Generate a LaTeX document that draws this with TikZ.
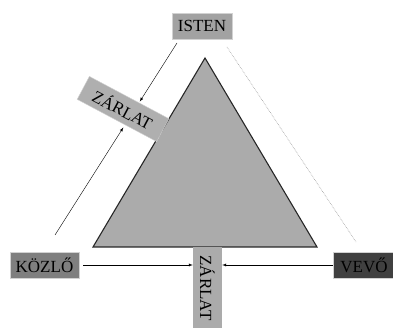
\documentclass[tikz,border=0pt]{standalone}
\usepackage{fontspec}
\setmainfont{Liberation Serif}
\usetikzlibrary{calc}
\definecolor{midgray}{HTML}{ABABAB}
\definecolor{boxgray}{HTML}{A2A2A2}
\definecolor{darkgray}{HTML}{7F7F7F}
\definecolor{deepgray}{HTML}{404040}
\begin{document}
\begin{tikzpicture}[x=1pt, y=-1pt,
            lbl/.style={draw=gray!35, rectangle, fill=boxgray, minimum height=26pt, inner sep=2pt, font=\fontsize{17}{19}\selectfont, align=center},
            arr/.style={-latex, thin}]
            \useasboundingbox (0,0) rectangle (393,328);

            % the triangle
            \filldraw[fill=midgray, draw=black!85, line width=1.1pt] (205,58) -- (317,247) -- (93,247) -- cycle;
            \draw[gray!80, densely dotted, line width=0.6pt] (227,47) -- (356,242);

            \node[lbl, minimum width=60pt] (isten) at (202,26) {ISTEN};
            \node[lbl, fill=darkgray, minimum width=69pt] (kozlo) at (44.5,265) {KÖZLŐ};
            \node[lbl, fill=deepgray, minimum width=62pt] (vevo) at (364,265) {VEVŐ};
            \node[lbl, fill=midgray, draw=none, rotate=-90, minimum width=82pt, minimum height=29pt] (zarlatb) at (207.5,288) {ZÁRLAT};
            \node[lbl, fill=midgray!95, rotate=-28, minimum width=90pt] (zarlata) at (123,109) {ZÁRLAT};

            \coordinate (top) at (177,43);
            \coordinate (low) at (55,235);
            \draw[arr] (top) -- ($(top)!0.305!(low)$);
            \draw[arr] (low) -- ($(top)!0.44!(low)$);

            \draw[arr, shorten <=4pt] (kozlo.east) -- (kozlo.east -| zarlatb.south);
            \draw[arr] (vevo.west) -- (vevo.west -| zarlatb.north);
        \end{tikzpicture}
\end{document}
